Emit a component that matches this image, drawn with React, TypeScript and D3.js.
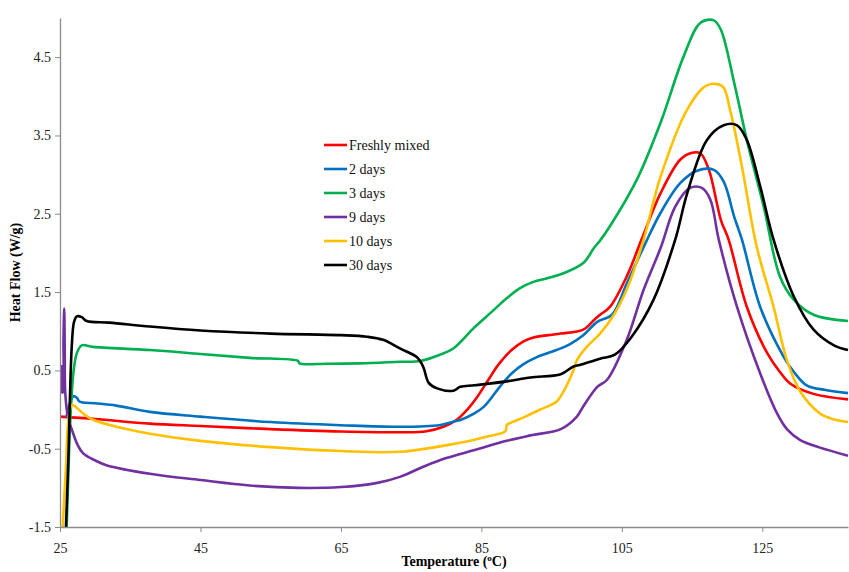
import React from "react";
import * as d3 from "d3";

type Pt = [number, number];

const seriesNames = ["Freshly mixed", "2 days", "3 days", "9 days", "10 days", "30 days"];
const seriesColors = ["#ff0000", "#0070c0", "#00b050", "#7030a0", "#ffc000", "#000000"];

const xTicks = [25, 45, 65, 85, 105, 125];
const yTicks = [-1.5, -0.5, 0.5, 1.5, 2.5, 3.5, 4.5];

const freshlyMixed: Pt[] = [
  [25, -0.09], [30, -0.12], [37.8, -0.18], [45, -0.21], [55, -0.25], [65, -0.28], [73.4, -0.29],
  [77, -0.28], [79.6, -0.22], [81.5, -0.13], [83, 0.0], [84.4, 0.16], [86, 0.38], [87.4, 0.57],
  [89.3, 0.76], [91, 0.87], [92.4, 0.92], [94.5, 0.95], [96.3, 0.97], [99.5, 1.02], [101, 1.14],
  [101.9, 1.21], [103.3, 1.31], [105.7, 1.7], [107.8, 2.17], [110.5, 2.76], [113.3, 3.19],
  [115, 3.28], [116.2, 3.27], [117.4, 3.06], [119.1, 2.42], [120.2, 2.17], [122.8, 1.31],
  [125.7, 0.72], [127.5, 0.48], [129, 0.33], [132.3, 0.2], [137.2, 0.13],
];

const days2: Pt[] = [
  [25.9, -0.1], [26.5, 0.1], [26.9, 0.17], [27.4, 0.15], [27.8, 0.1], [30, 0.08], [33, 0.05],
  [37.8, -0.03], [45, -0.09], [55, -0.16], [65, -0.2], [73.4, -0.22], [79, -0.2], [81, -0.155],
  [82.1, -0.13], [84, -0.05], [85.4, 0.04], [87.7, 0.3], [89.3, 0.46], [91, 0.58], [92.9, 0.67],
  [95.7, 0.76], [97.5, 0.83], [99.5, 0.95], [101.5, 1.12], [103.6, 1.21], [105.7, 1.61],
  [108.6, 2.17], [110.5, 2.51], [113.3, 2.89], [115.7, 3.05], [118.1, 3.06], [119.5, 2.91],
  [121, 2.46], [122.1, 2.17], [124.7, 1.31], [128, 0.68], [129.5, 0.48], [131.3, 0.31],
  [134, 0.25], [137.2, 0.21],
];

const days3: Pt[] = [
  [25.95, -1.5], [26.2, -0.8], [26.4, -0.26], [26.9, 0.46], [27.4, 0.72], [28.1, 0.82],
  [29.7, 0.8], [37.8, 0.76], [45, 0.71], [52, 0.66], [58.9, 0.62], [59.1, 0.59], [63, 0.585],
  [67.7, 0.59], [73.4, 0.61], [76.3, 0.62], [79.1, 0.7], [81, 0.78], [83.9, 1.04], [86.5, 1.25],
  [88.6, 1.42], [90.5, 1.55], [92.4, 1.63], [94.5, 1.68], [96.7, 1.74], [99.5, 1.87],
  [101, 2.06], [102, 2.17], [103.3, 2.34], [107.1, 2.93], [110.5, 3.66], [113.8, 4.51],
  [116.2, 4.94], [118.1, 4.97], [119.1, 4.85], [121, 4.17], [122.8, 3.44], [125.2, 2.59],
  [127.5, 1.7], [129.5, 1.4], [132.3, 1.21], [137.2, 1.13],
];

const days9: Pt[] = [
  [25.2, 0.57], [25.25, 0.35], [25.3, 0.22], [25.4, 0.22], [25.5, 0.9], [25.6, 1.29], [25.68, 0.7],
  [25.75, 0.21], [26.2, -0.13], [26.7, -0.26], [27.5, -0.45], [28.3, -0.56], [30, -0.65],
  [31.6, -0.71], [37.8, -0.82], [45, -0.9], [52, -0.97], [58.9, -1.0], [65, -0.99], [70, -0.94],
  [73.4, -0.86], [77, -0.72], [80, -0.62], [83.9, -0.52], [88.6, -0.4], [92, -0.33],
  [96.3, -0.25], [98.6, -0.09], [99.5, 0.04], [101.5, 0.29], [102.9, 0.38], [105.7, 0.89],
  [108.1, 1.53], [110.5, 2.06], [112.6, 2.59], [114.7, 2.83], [116.4, 2.83], [117.6, 2.68],
  [118.8, 2.17], [121.4, 1.31], [124.7, 0.46], [127.1, -0.05], [128.5, -0.25], [130.4, -0.39],
  [133, -0.48], [137.2, -0.59],
];

const days10: Pt[] = [
  [25.38, -1.5], [25.85, -0.73], [26.2, -0.13], [26.67, 0.06], [27, 0.05], [28.3, -0.05],
  [29.7, -0.13], [34, -0.24], [37.8, -0.31], [45, -0.4], [55, -0.48], [65, -0.53], [73.4, -0.54],
  [79.1, -0.47], [83.9, -0.39], [86, -0.34], [88.4, -0.28], [88.6, -0.2], [88.9, -0.18],
  [91, -0.1], [93.4, 0.0], [95.7, 0.1], [96.5, 0.2], [98.1, 0.5], [98.6, 0.63], [100, 0.8],
  [101.9, 0.97], [104, 1.23], [106, 1.6], [108.1, 2.17], [110.5, 2.97], [114.3, 3.83],
  [117.1, 4.14], [119.3, 4.13], [120.4, 3.83], [122.1, 3.1], [124.2, 2.08], [126.6, 1.31],
  [128.5, 0.63], [130.4, 0.23], [133.2, -0.05], [135, -0.12], [137.2, -0.16],
];

const days30: Pt[] = [
  [25.85, -1.5], [26.2, -0.6], [26.67, 0.8], [27, 1.12], [27.4, 1.19], [28.1, 1.18], [28.8, 1.13],
  [32, 1.11], [37.8, 1.06], [45, 1.01], [55, 0.97], [65, 0.95], [68.7, 0.93], [71, 0.89],
  [73.4, 0.78], [75.8, 0.67], [76.7, 0.55], [77.5, 0.34], [78.7, 0.27], [81, 0.24], [82, 0.29],
  [84, 0.31], [88.6, 0.36], [92, 0.41], [96.3, 0.45], [98.1, 0.55], [99, 0.57], [101.9, 0.65],
  [104, 0.7], [106.4, 0.93], [109.5, 1.4], [112.6, 2.17], [114.3, 2.76], [117.1, 3.44],
  [119.5, 3.63], [121.4, 3.63], [122.8, 3.44], [124.7, 2.85], [126.6, 2.17], [129.5, 1.44],
  [132.3, 1.02], [135.2, 0.82], [137.2, 0.76],
];

const allSeries = [freshlyMixed, days2, days3, days9, days10, days30];

export default function App() {
  const width = 849;
  const height = 572;
  const left = 60;
  const right = 848;
  const top = 18;
  const bottom = 527;
  const font = "'Liberation Serif', 'Times New Roman', serif";

  const svgRef = React.useRef<SVGSVGElement>(null);

  const xScale = d3.scaleLinear().domain([25, 137.2]).range([left, right]);
  const yScale = d3.scaleLinear().domain([-1.5, 5.0]).range([bottom, top]);

  React.useEffect(() => {
    const svg = d3.select(svgRef.current);

    const xAxis = d3.axisBottom(xScale).tickValues(xTicks).tickSize(5).tickSizeOuter(0);
    svg
      .select<SVGGElement>(".x-axis")
      .attr("transform", `translate(0,${bottom})`)
      .call(xAxis)
      .call((g) => g.select(".domain").attr("stroke", "#8c8c8c").attr("stroke-width", 1.3))
      .call((g) => g.selectAll(".tick line").attr("stroke", "#8c8c8c"))
      .selectAll("text")
      .attr("dy", "1.25em")
      .style("font-family", font)
      .style("font-size", "14px")
      .style("fill", "#222");

    const yAxis = d3
      .axisLeft(yScale)
      .tickValues(yTicks)
      .tickSize(5)
      .tickSizeOuter(0)
      .tickFormat((d) => String(d));
    svg
      .select<SVGGElement>(".y-axis")
      .attr("transform", `translate(${left},0)`)
      .call(yAxis)
      .call((g) => g.select(".domain").attr("stroke", "#8c8c8c").attr("stroke-width", 1.3))
      .call((g) => g.selectAll(".tick line").attr("stroke", "#8c8c8c"))
      .selectAll("text")
      .attr("x", -9)
      .style("font-family", font)
      .style("font-size", "14px")
      .style("fill", "#222");

    // centripetal catmull-rom keeps the peaks round without overshooting
    const line = d3
      .line<Pt>()
      .x((d) => xScale(d[0]))
      .y((d) => yScale(d[1]))
      .curve(d3.curveCatmullRom.alpha(0.5));

    svg
      .select(".lines")
      .selectAll("path")
      .data(allSeries)
      .join("path")
      .attr("d", line)
      .attr("fill", "none")
      .attr("stroke", (d, i) => seriesColors[i])
      .attr("stroke-width", 2.6)
      .attr("stroke-linejoin", "round");

    const legend = svg
      .select(".legend")
      .selectAll("g")
      .data(seriesNames)
      .join("g")
      .attr("transform", (d, i) => `translate(324,${145 + i * 24})`);
    legend
      .selectAll("line")
      .data((d, i) => [i])
      .join("line")
      .attr("x1", 0)
      .attr("x2", 23)
      .attr("stroke", (i) => seriesColors[i])
      .attr("stroke-width", 2.6);
    legend
      .selectAll("text")
      .data((d) => [d])
      .join("text")
      .attr("x", 25)
      .attr("dy", "0.33em")
      .style("font-family", font)
      .style("font-size", "14px")
      .style("fill", "#111")
      .text((d) => d);
  }, []);

  return (
    <svg
      ref={svgRef}
      width={width}
      height={height}
      style={{ position: "absolute", left: 0, top: 0, background: "#fff" }}
    >
      <defs>
        <clipPath id="plot-clip">
          <rect x={left} y={top - 4} width={right - left + 1} height={bottom - top + 4} />
        </clipPath>
      </defs>
      <g className="lines" clipPath="url(#plot-clip)" />
      <g className="x-axis" />
      <g className="y-axis" />
      <g className="legend" />
      <text
        transform={`translate(20,${(top + bottom) / 2}) rotate(-90)`}
        textAnchor="middle"
        style={{ fontFamily: font, fontSize: "14px", fontWeight: "bold" }}
      >
        Heat Flow (W/g)
      </text>
      <text
        x={(left + right) / 2}
        y={566}
        textAnchor="middle"
        style={{ fontFamily: font, fontSize: "14px", fontWeight: "bold" }}
      >
        Temperature (
        <tspan dy={-5} style={{ fontSize: "9px" }}>
          o
        </tspan>
        <tspan dy={5}>C)</tspan>
      </text>
    </svg>
  );
}
